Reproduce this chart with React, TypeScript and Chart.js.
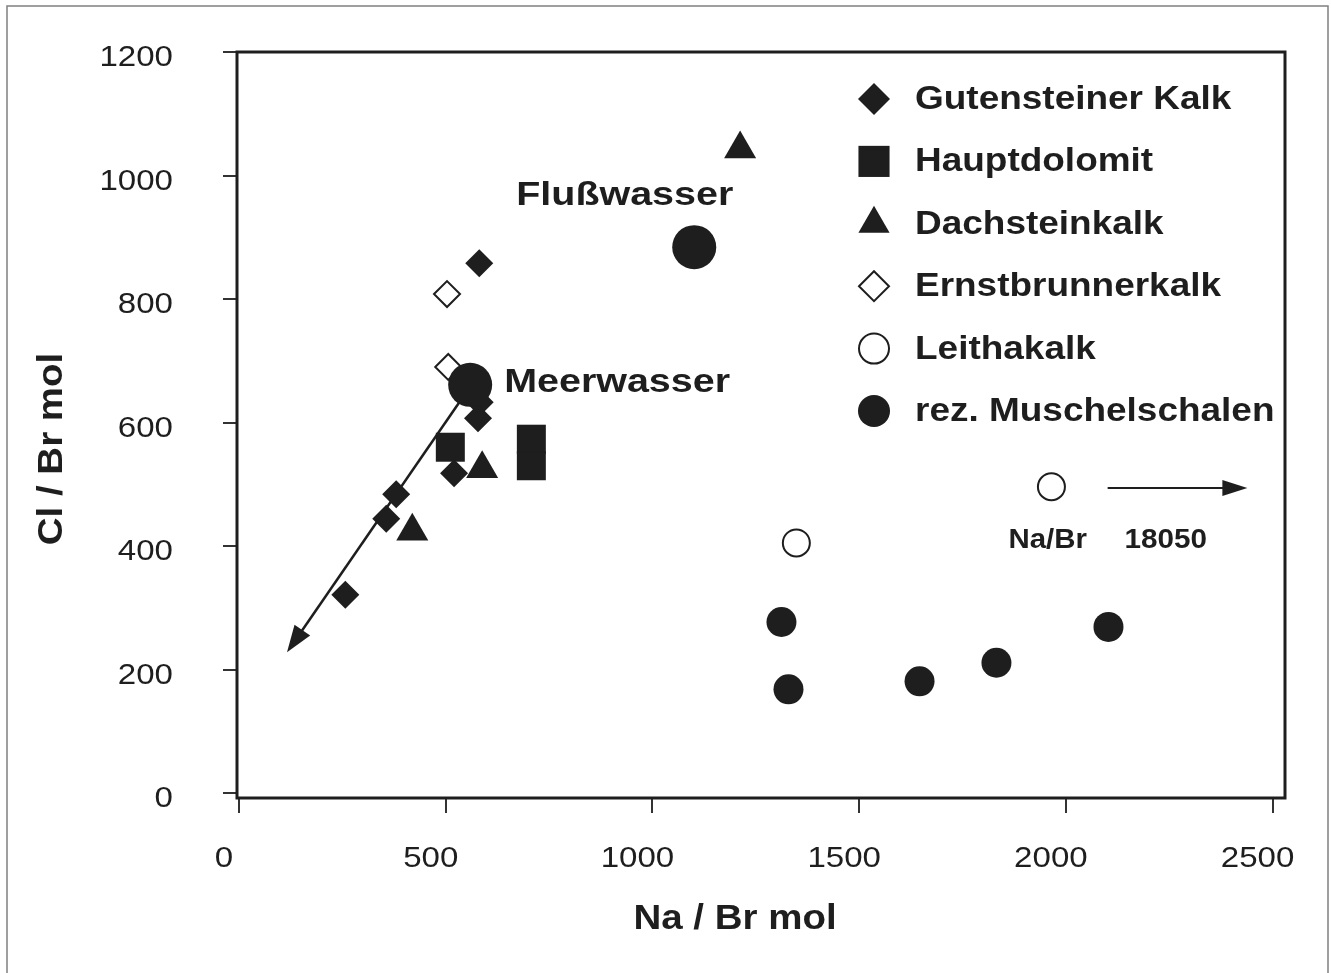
import React, { useEffect, useRef } from "react";
import { Chart, registerables } from "chart.js";

Chart.register(...registerables);

// ---------- data ----------
const xTicks = [0, 500, 1000, 1500, 2000, 2500];
const yTicks = [0, 200, 400, 600, 800, 1000, 1200];

const seriesNames = [
  "Gutensteiner Kalk",
  "Hauptdolomit",
  "Dachsteinkalk",
  "Ernstbrunnerkalk",
  "Leithakalk",
  "rez. Muschelschalen",
];

const gutensteinerX = [581, 582, 578, 520, 380, 356, 257];
const gutensteinerY = [858, 633, 607, 518, 484, 444, 321];

const hauptdolomitX = [511, 707, 707];
const hauptdolomitY = [560, 573, 530];

const dachsteinX = [419, 588, 1212];
const dachsteinY = [424, 525, 1043];

const ernstbrunnerX = [503, 506];
const ernstbrunnerY = [808, 690];

const leithaX = [1348, 1965];
const leithaY = [405, 496];

const muschelX = [1312, 1329, 1646, 1832, 2103];
const muschelY = [277, 168, 181, 211, 269];

const referenceNames = ["Meerwasser", "Flußwasser"];
const referenceX = [559, 1101];
const referenceY = [661, 884];

// mixing-line arrow (data units) and off-scale arrow
const mixingFrom = [532, 632];
const mixingTo = [116, 228];
const offscaleFrom = [2101, 494];
const offscaleTo = [2439, 494];
const offscaleText = ["Na/Br", "18050"];

const xTitle = "Na / Br mol";
const yTitle = "Cl / Br mol";

// ---------- helpers ----------
const INK = "#1e1e1e";
const pts = (xs: number[], ys: number[]) => xs.map((x, i) => ({ x, y: ys[i] }));

function drawText(
  ctx: CanvasRenderingContext2D,
  text: string,
  x: number,
  y: number,
  font: string,
  align: CanvasTextAlign,
  sx: number,
  rot = 0
) {
  ctx.save();
  ctx.translate(x, y);
  if (rot) ctx.rotate(rot);
  ctx.scale(sx, 1);
  ctx.font = font;
  ctx.textAlign = align;
  ctx.textBaseline = "middle";
  ctx.fillStyle = INK;
  ctx.fillText(text, 0, 0);
  ctx.restore();
}

function drawMarker(
  ctx: CanvasRenderingContext2D,
  style: string,
  x: number,
  y: number,
  r: number,
  fill: string,
  stroke: string,
  lw: number
) {
  ctx.save();
  ctx.beginPath();
  if (style === "circle") {
    ctx.arc(x, y, r, 0, Math.PI * 2);
  } else if (style === "rect") {
    const s = r * Math.SQRT1_2;
    ctx.rect(x - s, y - s, 2 * s, 2 * s);
  } else if (style === "rectRot") {
    ctx.moveTo(x - r, y);
    ctx.lineTo(x, y - r);
    ctx.lineTo(x + r, y);
    ctx.lineTo(x, y + r);
    ctx.closePath();
  } else if (style === "triangle") {
    let a = 0;
    ctx.moveTo(x + Math.sin(a) * r, y - Math.cos(a) * r);
    a += (2 * Math.PI) / 3;
    ctx.lineTo(x + Math.sin(a) * r, y - Math.cos(a) * r);
    a += (2 * Math.PI) / 3;
    ctx.lineTo(x + Math.sin(a) * r, y - Math.cos(a) * r);
    ctx.closePath();
  }
  ctx.fillStyle = fill;
  ctx.fill();
  if (lw > 0) {
    ctx.lineWidth = lw;
    ctx.strokeStyle = stroke;
    ctx.stroke();
  }
  ctx.restore();
}

function drawArrow(
  ctx: CanvasRenderingContext2D,
  x1: number,
  y1: number,
  x2: number,
  y2: number,
  lw: number,
  headLen: number,
  headHalf: number
) {
  const ang = Math.atan2(y2 - y1, x2 - x1);
  const bx = x2 - Math.cos(ang) * headLen;
  const by = y2 - Math.sin(ang) * headLen;
  ctx.save();
  ctx.strokeStyle = INK;
  ctx.fillStyle = INK;
  ctx.lineWidth = lw;
  ctx.beginPath();
  ctx.moveTo(x1, y1);
  ctx.lineTo(bx + Math.cos(ang) * 2, by + Math.sin(ang) * 2);
  ctx.stroke();
  ctx.beginPath();
  ctx.moveTo(x2, y2);
  ctx.lineTo(bx - Math.sin(ang) * headHalf, by + Math.cos(ang) * headHalf);
  ctx.lineTo(bx + Math.sin(ang) * headHalf, by - Math.cos(ang) * headHalf);
  ctx.closePath();
  ctx.fill();
  ctx.restore();
}

const legendSizes = [16, 22, 18, 15, 15, 16];
const TICK_FONT = "29px 'Liberation Sans', Arial, sans-serif";
const BOLD = (px: number) => `bold ${px}px 'Liberation Sans', Arial, sans-serif`;

const decoPlugin = {
  id: "deco",
  beforeDraw(chart: any) {
    const ctx = chart.ctx as CanvasRenderingContext2D;
    ctx.save();
    ctx.fillStyle = "#ffffff";
    ctx.fillRect(0, 0, chart.width, chart.height);
    ctx.strokeStyle = "#808080";
    ctx.lineWidth = 1.5;
    ctx.beginPath();
    ctx.moveTo(7, 1000);
    ctx.lineTo(7, 6);
    ctx.lineTo(1328, 6);
    ctx.lineTo(1328, 1000);
    ctx.stroke();
    ctx.restore();
  },
  afterDatasetsDraw(chart: any) {
    const ctx = chart.ctx as CanvasRenderingContext2D;
    const xs = chart.scales.x;
    const ys = chart.scales.y;
    drawArrow(
      ctx,
      xs.getPixelForValue(mixingFrom[0]),
      ys.getPixelForValue(mixingFrom[1]),
      xs.getPixelForValue(mixingTo[0]),
      ys.getPixelForValue(mixingTo[1]),
      2.5,
      27,
      9.5
    );
    drawArrow(
      ctx,
      xs.getPixelForValue(offscaleFrom[0]),
      ys.getPixelForValue(offscaleFrom[1]),
      xs.getPixelForValue(offscaleTo[0]),
      ys.getPixelForValue(offscaleTo[1]),
      2,
      25,
      8
    );
  },
  afterDraw(chart: any) {
    const ctx = chart.ctx as CanvasRenderingContext2D;
    const xs = chart.scales.x;
    const ys = chart.scales.y;
    const a = chart.chartArea;

    // plot frame
    ctx.save();
    ctx.strokeStyle = INK;
    ctx.lineWidth = 3;
    ctx.strokeRect(a.left, a.top, a.right - a.left, a.bottom - a.top);
    ctx.restore();

    // tick labels
    yTicks.forEach((v) => {
      drawText(ctx, String(v), a.left - 64, ys.getPixelForValue(v) + 6, TICK_FONT, "right", 1.14);
    });
    xTicks.forEach((v) => {
      drawText(ctx, String(v), xs.getPixelForValue(v) - 15, a.bottom + 61, TICK_FONT, "center", 1.14);
    });

    // axis titles
    drawText(ctx, xTitle, (a.left + a.right) / 2 - 26, a.bottom + 121, BOLD(35), "center", 1.1);
    drawText(ctx, yTitle, 52, (a.top + a.bottom) / 2 + 24, BOLD(35), "center", 1.1, -Math.PI / 2);

    // legend
    const ds = chart.data.datasets;
    seriesNames.forEach((name, i) => {
      const d = ds[i];
      const y = 99 + i * 62.4;
      drawMarker(
        ctx,
        d.pointStyle,
        874,
        y,
        legendSizes[i],
        d.backgroundColor,
        d.borderColor,
        d.borderWidth
      );
      drawText(ctx, name, 915, y + 1, BOLD(33), "left", 1.12);
    });

    // reference water labels
    const mx = xs.getPixelForValue(referenceX[0]);
    const my = ys.getPixelForValue(referenceY[0]);
    drawText(ctx, referenceNames[0], mx + 34, my - 2, BOLD(34), "left", 1.16);
    const fx = xs.getPixelForValue(referenceX[1]);
    const fy = ys.getPixelForValue(referenceY[1]);
    drawText(ctx, referenceNames[1], fx + 39, fy - 52, BOLD(34), "right", 1.16);

    // off-scale note
    const lx = xs.getPixelForValue(leithaX[1]);
    const ly = ys.getPixelForValue(leithaY[1]);
    drawText(ctx, offscaleText[0], lx - 43, ly + 54, BOLD(27), "left", 1.09);
    drawText(ctx, offscaleText[1], lx + 73, ly + 54, BOLD(27), "left", 1.1);
  },
};

export default function App() {
  const ref = useRef<HTMLCanvasElement | null>(null);

  useEffect(() => {
    if (!ref.current) return;
    const filled = { backgroundColor: INK, borderColor: INK, borderWidth: 0 };
    const open = { backgroundColor: "#ffffff", borderColor: INK, borderWidth: 2 };
    const chart = new Chart(ref.current, {
      type: "scatter",
      data: {
        datasets: [
          { label: seriesNames[0], data: pts(gutensteinerX, gutensteinerY), pointStyle: "rectRot", pointRadius: 14, ...filled },
          { label: seriesNames[1], data: pts(hauptdolomitX, hauptdolomitY), pointStyle: "rect", pointRadius: 20.5, ...filled },
          { label: seriesNames[2], data: pts(dachsteinX, dachsteinY), pointStyle: "triangle", pointRadius: 18.5, ...filled },
          { label: seriesNames[3], data: pts(ernstbrunnerX, ernstbrunnerY), pointStyle: "rectRot", pointRadius: 13, ...open },
          { label: seriesNames[4], data: pts(leithaX, leithaY), pointStyle: "circle", pointRadius: 13.5, ...open },
          { label: seriesNames[5], data: pts(muschelX, muschelY), pointStyle: "circle", pointRadius: 15, ...filled },
          { label: "Referenz", data: pts(referenceX, referenceY), pointStyle: "circle", pointRadius: 22, order: -1, ...filled },
        ] as any,
      },
      options: {
        animation: false,
        responsive: false,
        devicePixelRatio: 1,
        events: [],
        layout: { autoPadding: false, padding: { left: 223, top: 52, right: 46, bottom: 160 } },
        plugins: { legend: { display: false }, tooltip: { enabled: false }, title: { display: false } },
        elements: { point: { hoverRadius: 0 } },
        scales: {
          x: {
            type: "linear",
            min: -5,
            max: 2530,
            afterBuildTicks: (s: any) => {
              s.ticks = xTicks.map((v) => ({ value: v }));
            },
            ticks: { display: false },
            border: { display: false },
            grid: { drawOnChartArea: false, drawTicks: true, tickLength: 15, color: "#333", lineWidth: 2 },
          },
          y: {
            type: "linear",
            min: -8,
            max: 1200,
            afterBuildTicks: (s: any) => {
              s.ticks = yTicks.map((v) => ({ value: v }));
            },
            ticks: { display: false },
            border: { display: false },
            grid: { drawOnChartArea: false, drawTicks: true, tickLength: 14, color: "#333", lineWidth: 2 },
          },
        },
      } as any,
      plugins: [decoPlugin],
    });
    return () => chart.destroy();
  }, []);

  return (
    <div style={{ position: "absolute", left: 0, top: 0, width: 1331, height: 973, background: "#fff" }}>
      <canvas ref={ref} width={1331} height={973} style={{ display: "block", width: 1331, height: 973 }} />
    </div>
  );
}
